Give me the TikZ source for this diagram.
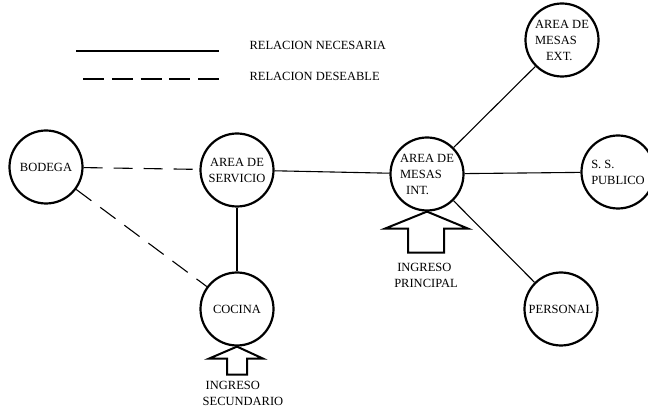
\documentclass[tikz,border=0pt]{standalone}
\usepackage{fontspec}
\setmainfont{Liberation Serif}
\usepackage{tikz}
\usetikzlibrary{positioning}
\newcommand{\fs}{\fontsize{12.5}{16}\selectfont}
\tikzset{
  room/.style={circle,draw,line width=2.2pt,minimum size=73pt,inner sep=0pt,
    font=\fs,align=center},
  need/.style={line width=1.1pt},
  wish/.style={need,dash pattern=on 19pt off 11pt},
  entry/.style={draw,line width=2pt,line join=miter},
  lbl/.style={font=\fs,align=left},
}
\begin{document}
\begin{tikzpicture}[x=1pt,y=-1pt]
  \useasboundingbox (0,0) rectangle (648,411);
  % legend
  \coordinate (needA) at (76,51);
  \coordinate (needB) at (219,51);
  \coordinate (wishA) at (83,79);
  \coordinate (wishB) at (219,79);
  \draw[need,line width=1.4pt] (needA) -- (needB);
  \draw[need,line width=1.4pt,dash pattern=on 21pt off 7.75pt] (wishA) -- (wishB);
  \node[lbl,anchor=west] (needtxt) at (246,45) {RELACION NECESARIA};
  \node[lbl,anchor=west] (wishtxt) at (246,76) {RELACION DESEABLE};
  % rooms
  \node[room] (bodega) at (46,167) {BODEGA};
  \node[room] (servicio) at (237,170) {AREA DE\\SERVICIO};
  \node[room] (cocina) at (237,309) {COCINA};
  \node[room,align=left] (mesasint) at (427,174) {AREA DE\\MESAS\\\hspace*{6pt}INT.};
  \node[room,align=left] (mesasext) at (562,40) {AREA DE\\MESAS\\\hspace*{11pt}EXT.};
  \node[room,align=left] (publico) at (618,172) {S. S.\\PUBLICO};
  \node[room] (personal) at (561,309) {PERSONAL};
  % relations
  \draw[wish] (bodega) -- (servicio);
  \draw[wish] (bodega) -- (cocina);
  \draw[need] (servicio) -- (cocina);
  \draw[need] (servicio) -- (mesasint);
  \draw[need] (mesasint) -- (mesasext);
  \draw[need] (mesasint) -- (publico);
  \draw[need] (mesasint) -- (personal);
  % entrances
  \draw[entry] (mesasint.south) -- ++(-42,17) -- ++(23,0) -- ++(0,24) -- ++(36,0)
    -- ++(0,-24) -- ++(24,0) -- cycle;
  \node[lbl] (principal) at (426,275) {\hspace*{3pt}INGRESO\\PRINCIPAL};
  \draw[entry] (cocina.south) -- ++(-28,12) -- ++(18,0) -- ++(0,16) -- ++(20,0)
    -- ++(0,-16) -- ++(16,0) -- cycle;
  \node[lbl] (secundario) at (243,393) {\hspace*{3pt}INGRESO\\SECUNDARIO};
\end{tikzpicture}
\end{document}
